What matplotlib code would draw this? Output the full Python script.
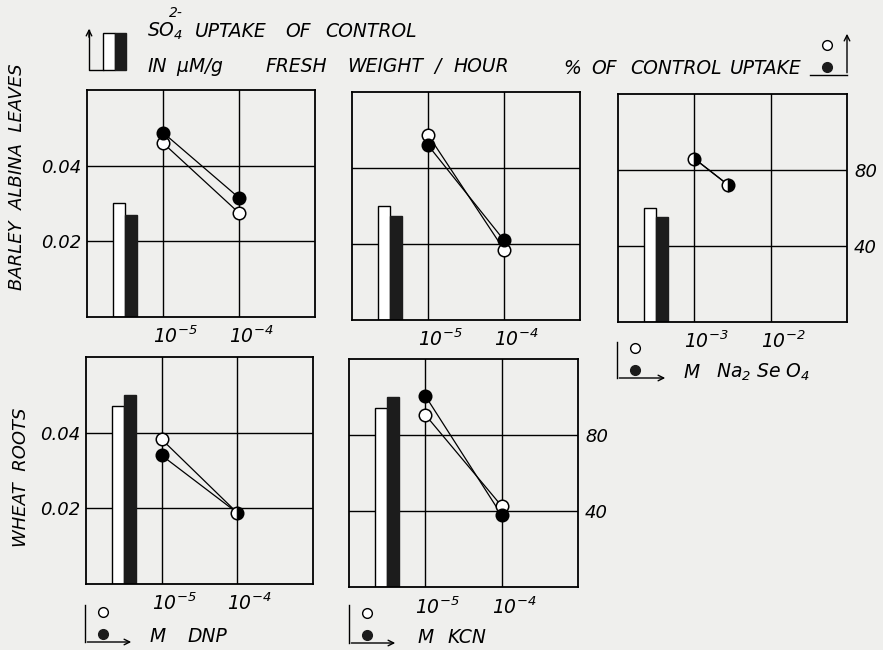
import numpy as np
import matplotlib
matplotlib.use("Agg")
import matplotlib.pyplot as plt
from matplotlib.transforms import ScaledTranslation

# control uptake (white bar = open-circle series, black bar = filled series), uM/g fresh weight/hour
ctrl_open = [0.030, 0.030, 0.030, 0.047, 0.047]
ctrl_filled = [0.027, 0.0273, 0.0276, 0.050, 0.050]

# inhibitor concentrations (M)
conc_dnp = [1e-5, 1e-4]
conc_kcn = [1e-5, 1e-4]
conc_se = [1e-3, 2.8e-3]

# % of control uptake
barley_dnp_open = [92, 55]
barley_dnp_filled = [97.5, 63]
barley_kcn_open = [97.5, 37]
barley_kcn_filled = [92, 42]
barley_se_open = [86, 72]
barley_se_filled = [86, 72]
wheat_dnp_open = [76.5, 37.6]
wheat_dnp_filled = [68, 37.6]
wheat_kcn_open = [90.6, 42.6]
wheat_kcn_filled = [100.6, 37.8]

W, H = 883, 650
BG = "#efefed"
plt.rcParams["font.family"] = "DejaVu Sans"
plt.rcParams["font.style"] = "italic"
plt.rcParams["mathtext.fontset"] = "custom"
plt.rcParams["mathtext.rm"] = "DejaVu Sans:italic"
plt.rcParams["mathtext.it"] = "DejaVu Sans:italic"
plt.rcParams["mathtext.default"] = "rm"

fig = plt.figure(figsize=(W / 100, H / 100), dpi=100, facecolor=BG)

# overlay in pixel coords for the hand-drawn keys and labels
ov = fig.add_axes([0, 0, 1, 1], zorder=0)
ov.set_xlim(0, W)
ov.set_ylim(H, 0)
ov.axis("off")
ov.patch.set_alpha(0)

lab_off = ScaledTranslation(-10 / 100, -9 / 100, fig.dpi_scale_trans)


def panel(box, conc, p_open, p_filled, i, xlo, left_lab=False, right_lab=False):
    x0, y0, x1, y1 = box
    ax = fig.add_axes([x0 / W, 1 - y1 / H, (x1 - x0) / W, (y1 - y0) / H], zorder=2)
    ax.patch.set_alpha(0)
    ax.set_xlim(xlo, xlo + 3)
    ax.set_ylim(0, 0.06)
    ax.set_xticks([xlo + 1, xlo + 2])
    ax.set_xticklabels([])
    for k in (1, 2):
        ax.text(xlo + k, 0, "$10^{%d}$" % (xlo + k), fontsize=13.5, ha="left", va="top",
                transform=ax.get_xaxis_transform() + lab_off)
    ax.set_yticks([0.02, 0.04])
    if left_lab:
        ax.set_yticklabels(["0.02", "0.04"], fontsize=13)
    else:
        ax.set_yticklabels([])
    ax.tick_params(length=0, pad=4)
    ax.grid(True, color="black", lw=1.0)
    ax.set_axisbelow(True)
    for s in ax.spines.values():
        s.set_linewidth(1.3)
    ax.bar(xlo + 0.34, ctrl_open[i], width=0.16, align="edge", color="white",
           edgecolor="black", lw=1.0, zorder=2)
    ax.bar(xlo + 0.50, ctrl_filled[i], width=0.16, align="edge", color="#1c1c1c",
           edgecolor="#1c1c1c", lw=1.0, zorder=2)

    ax2 = ax.twinx()
    ax2.set_ylim(0, 120)
    ax2.set_yticks([40, 80])
    if right_lab:
        ax2.set_yticklabels(["40", "80"], fontsize=13)
    else:
        ax2.set_yticklabels([])
    ax2.tick_params(length=0, pad=5)
    for s in ax2.spines.values():
        s.set_visible(False)
    lx = np.log10(conc)
    ax2.plot(lx, p_open, color="black", lw=0.9, zorder=3)
    ax2.plot(lx, p_filled, color="black", lw=0.9, zorder=3)
    for x, a, b in zip(lx, p_open, p_filled):
        if a == b:
            ax2.plot(x, a, "o", ms=9, mec="black", mew=1.1, mfc="black",
                     mfcalt="white", fillstyle="right", zorder=4)
        else:
            ax2.plot(x, a, "o", ms=9, mec="black", mew=1.1, mfc="white", zorder=4)
            ax2.plot(x, b, "o", ms=9, mec="black", mew=1.1, mfc="black", zorder=4)
    return ax


panel((87, 90, 315, 317), conc_dnp, barley_dnp_open, barley_dnp_filled, 0, -6, left_lab=True)
panel((352, 92, 580, 320), conc_kcn, barley_kcn_open, barley_kcn_filled, 1, -6)
panel((618, 94, 847, 322), conc_se, barley_se_open, barley_se_filled, 2, -4, right_lab=True)
panel((86, 357, 313, 584), conc_dnp, wheat_dnp_open, wheat_dnp_filled, 3, -6, left_lab=True)
panel((349, 359, 578, 587), conc_kcn, wheat_kcn_open, wheat_kcn_filled, 4, -6, right_lab=True)

# row labels
ov.text(17, 177, "BARLEY  ALBINA  LEAVES", rotation=90, ha="center", va="center", fontsize=13)
ov.text(21, 477, "WHEAT  ROOTS", rotation=90, ha="center", va="center", fontsize=13)

# top-left key: control bars
ov.plot([89, 89, 103], [30, 70, 70], color="black", lw=1.0)
ov.annotate("", xy=(89, 26), xytext=(89, 40), arrowprops=dict(arrowstyle="->", lw=1.0))
ov.bar(103, 37, width=12, bottom=33, align="edge", color="white", edgecolor="black", lw=1.0)
ov.bar(115, 37, width=11, bottom=33, align="edge", color="#1c1c1c", edgecolor="#1c1c1c", lw=1.0)
ov.text(147, 37, "SO$_4$", fontsize=13.5, va="baseline")
ov.text(169, 17, "2-", fontsize=10, va="baseline")
for x, w in [(195, "UPTAKE"), (285, "OF"), (325, "CONTROL")]:
    ov.text(x, 37, w, fontsize=13.5, va="baseline")
for x, w in [(148, "IN"), (176, "$\\mu$M/g"), (265, "FRESH"), (347, "WEIGHT"),
             (434, "/"), (453, "HOUR")]:
    ov.text(x, 72, w, fontsize=13.5, va="baseline")

# top-right key: % of control
for x, w in [(563, "%"), (591, "OF"), (630, "CONTROL"), (730, "UPTAKE")]:
    ov.text(x, 74, w, fontsize=13.5, va="baseline")
ov.plot([810, 847], [75, 75], color="black", lw=1.0)
ov.annotate("", xy=(847, 31), xytext=(847, 75.5), arrowprops=dict(arrowstyle="->", lw=1.0))
ov.plot(827, 45, "o", ms=7, mfc="white", mec="black", mew=1.0)
ov.plot(827, 67, "o", ms=7, mfc="#1c1c1c", mec="#1c1c1c", mew=1.0)


def x_key(x, ytop, ybot, xend, words):
    ov.plot([x, x], [ytop, ybot], color="black", lw=1.0)
    ov.annotate("", xy=(xend, ybot), xytext=(x - 0.5, ybot),
                arrowprops=dict(arrowstyle="->", lw=1.0))
    ov.plot(x + 18, ybot - 30, "o", ms=7, mfc="white", mec="black", mew=1.0)
    ov.plot(x + 18, ybot - 8, "o", ms=7, mfc="#1c1c1c", mec="#1c1c1c", mew=1.0)
    for xt, w in words:
        ov.text(xt, ybot, w, fontsize=13.5, va="baseline")


x_key(617, 342, 378, 668, [(683, "M"), (716, "Na$_2$ Se O$_4$")])
x_key(85, 605, 642, 134, [(150, "M"), (188, "DNP")])
x_key(349, 605, 643, 398, [(417, "M"), (448, "KCN")])

fig.savefig("out.png", dpi=100, facecolor=BG)
